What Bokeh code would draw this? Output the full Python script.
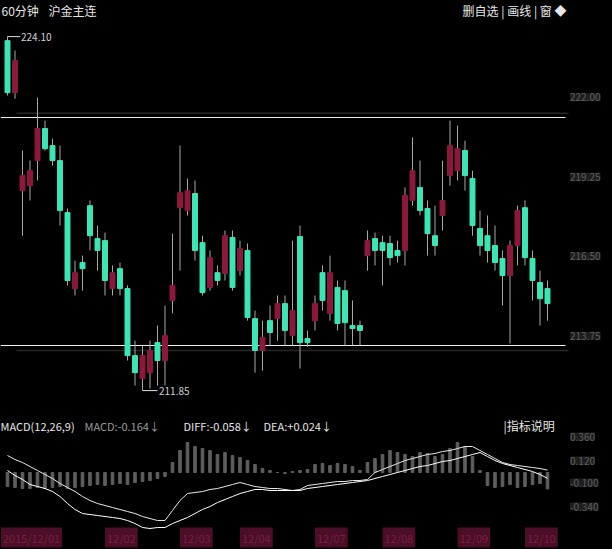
from bokeh.plotting import figure
from bokeh.models import Range1d, Label
from bokeh.core.properties import value
from bokeh.embed import file_html
from bokeh.resources import INLINE

# ---------------- data ----------------
opens = [223.96, 222.16, 218.77, 218.94, 219.81, 220.92, 220.33, 219.81, 218.01, 215.38,
         216.28, 218.25, 217.11, 217.04, 215.38, 216.07, 215.38, 213.06, 212.27, 212.47,
         213.51, 212.89, 214.97, 218.18, 218.08, 218.67, 216.97, 215.42, 215.93, 215.90,
         217.15, 216.00, 216.70, 214.34, 213.24, 214.27, 214.34, 214.86, 213.75, 217.18,
         213.65, 214.27, 215.93, 214.52, 215.42, 215.31, 214.10, 214.10, 216.52, 217.11,
         216.97, 216.94, 216.70, 216.70, 218.43, 218.88, 218.15, 217.21, 217.91, 219.29,
         219.46, 220.16, 219.19, 217.46, 217.21, 216.87, 216.42, 215.83, 216.87, 218.18,
         216.42, 215.59, 215.38]
highs = [224.10, 223.62, 220.16, 219.81, 221.99, 221.19, 220.57, 220.33, 218.15, 216.35,
         216.52, 218.43, 217.56, 217.32, 216.18, 216.28, 215.49, 213.58, 213.41, 213.58,
         214.10, 214.79, 217.28, 220.33, 219.19, 219.12, 217.21, 216.70, 216.18, 217.39,
         217.39, 217.04, 216.94, 214.62, 214.27, 214.79, 215.14, 215.14, 217.04, 217.56,
         213.93, 215.14, 216.18, 216.52, 215.66, 215.66, 214.97, 214.27, 217.39, 217.32,
         217.21, 217.21, 217.04, 218.88, 220.61, 219.81, 218.43, 218.25, 219.81, 221.19,
         221.02, 220.50, 219.46, 218.08, 217.91, 217.56, 216.70, 217.04, 218.25, 218.43,
         216.70, 216.00, 215.66]
lows = [222.06, 221.95, 217.21, 218.43, 219.12, 220.16, 219.64, 217.56, 215.49, 215.14,
        215.31, 216.70, 216.00, 215.14, 215.14, 215.14, 212.89, 212.02, 211.85, 211.92,
        212.02, 212.02, 214.52, 216.00, 217.91, 216.35, 215.14, 215.31, 215.49, 215.66,
        215.31, 215.83, 214.27, 212.47, 212.54, 213.41, 213.58, 213.41, 213.41, 212.61,
        213.37, 213.93, 214.62, 214.27, 213.93, 213.41, 213.41, 213.41, 216.00, 216.18,
        215.49, 216.18, 216.28, 216.18, 218.25, 217.91, 216.52, 216.52, 217.39, 218.94,
        219.12, 218.77, 217.21, 216.52, 216.28, 216.00, 214.79, 213.48, 216.18, 216.18,
        214.97, 214.10, 214.27]
closes = [222.16, 223.27, 219.29, 219.46, 220.92, 220.22, 219.81, 218.08, 215.66, 215.93,
          216.07, 217.21, 216.70, 215.66, 215.93, 215.38, 213.06, 212.47, 213.06, 213.24,
          212.89, 213.75, 215.49, 218.70, 218.77, 216.70, 215.24, 216.45, 215.66, 217.21,
          215.42, 216.77, 214.38, 213.24, 213.69, 213.86, 214.86, 213.93, 214.62, 213.51,
          213.51, 214.86, 214.97, 215.93, 214.17, 214.20, 214.00, 213.93, 217.04, 216.70,
          216.70, 216.45, 216.52, 218.60, 219.46, 218.08, 217.28, 216.87, 218.43, 220.33,
          220.22, 219.29, 217.56, 216.87, 216.70, 216.28, 215.83, 216.87, 218.08, 216.45,
          215.66, 215.03, 214.86]

diff = [0.02, -0.03, -0.07, -0.12, -0.14, -0.16, -0.19, -0.24, -0.31, -0.37,
        -0.41, -0.42, -0.43, -0.44, -0.45, -0.46, -0.48, -0.51, -0.55, -0.56,
        -0.55, -0.55, -0.51, -0.48, -0.45, -0.41, -0.37, -0.34, -0.30, -0.27,
        -0.24, -0.21, -0.19, -0.17, -0.17, -0.18, -0.18, -0.18, -0.18, -0.18,
        -0.16, -0.15, -0.14, -0.13, -0.12, -0.11, -0.10, -0.09, -0.08, -0.06,
        -0.04, -0.02, 0.00, 0.02, 0.04, 0.06, 0.07, 0.09, 0.11, 0.12,
        0.14, 0.16, 0.18, 0.20, 0.16, 0.12, 0.09, 0.07, 0.05, 0.03,
        0.01, -0.02, -0.058]
dea = [0.17, 0.13, 0.10, 0.06, 0.02, -0.02, -0.06, -0.11, -0.15, -0.19,
       -0.24, -0.28, -0.31, -0.33, -0.35, -0.37, -0.39, -0.41, -0.44, -0.46,
       -0.48, -0.48, -0.38, -0.28, -0.21, -0.20, -0.19, -0.17, -0.16, -0.14,
       -0.12, -0.10, -0.12, -0.14, -0.15, -0.16, -0.16, -0.17, -0.18, -0.17,
       -0.13, -0.12, -0.11, -0.10, -0.09, -0.09, -0.08, -0.08, -0.07, 0.00,
       0.03, 0.06, 0.09, 0.12, 0.14, 0.16, 0.18, 0.19, 0.21, 0.22,
       0.24, 0.26, 0.26, 0.22, 0.18, 0.14, 0.10, 0.08, 0.07, 0.06,
       0.05, 0.04, 0.024]
hist = [-0.14, -0.15, -0.16, -0.16, -0.15, -0.16, -0.15, -0.14, -0.16, -0.15,
        -0.14, -0.13, -0.12, -0.13, -0.12, -0.11, -0.12, -0.10, -0.09, -0.08,
        -0.06, -0.04, 0.10, 0.22, 0.30, 0.26, 0.24, 0.22, 0.18, 0.20,
        0.17, 0.15, 0.12, 0.08, 0.04, 0.02, 0.00, -0.01, 0.01, 0.02,
        0.03, 0.08, 0.09, 0.07, 0.09, 0.08, 0.06, 0.02, 0.10, 0.14,
        0.18, 0.22, 0.20, 0.18, 0.16, 0.20, 0.19, 0.16, 0.18, 0.24,
        0.30, 0.26, 0.16, 0.02, -0.13, -0.15, -0.14, -0.12, -0.15, -0.14,
        -0.12, -0.11, -0.164]

level_lines = [221.30, 213.41]
shadow_lines = [221.45, 213.24]
price_ticks = [222.00, 219.25, 216.50, 213.75]
macd_ticks = [0.36, 0.12, -0.10, -0.34]
date_labels = ["2015/12/01", "12/02", "12/03", "12/04", "12/07", "12/08", "12/09", "12/10"]
date_pos = [-0.9, 13, 23, 31, 41, 50, 60, 69]

FONT = "Noto Sans CJK SC"
RED = "#8c193c"
GREEN = "#3ce6b4"
W, H = 612, 549

n = len(opens)
idx = list(range(n))
up = [c >= o for o, c in zip(opens, closes)]
body_col = [RED if u else GREEN for u in up]
tops = [max(o, c) for o, c in zip(opens, closes)]
bots = [min(o, c) for o, c in zip(opens, closes)]

p = figure(width=W, height=H, x_range=Range1d(-0.933, 80.667),
           y_range=Range1d(206.35, 225.35), output_backend="svg",
           toolbar_location=None, min_border=0,
           x_axis_location=None, y_axis_location=None,
           background_fill_color="black", border_fill_color="black",
           outline_line_color=None)
p.grid.visible = False
p.extra_y_ranges = {"macd": Range1d(-0.77, 4.72)}

# reference lines
p.segment(x0=[1.2] * 2, x1=[74.8] * 2, y0=shadow_lines, y1=shadow_lines,
          line_color="#262626", line_width=1.5)
p.segment(x0=[-0.933] * 2, x1=[74.4] * 2, y0=level_lines, y1=level_lines,
          line_color="#f0f0f0", line_width=1)

# candles
p.segment(x0=idx, x1=idx, y0=lows, y1=highs, line_color="#a8a8a8", line_width=1)
p.vbar(x=idx, width=0.66, top=tops, bottom=bots, fill_color=body_col,
       line_color=body_col)

# high / low markers
hi_i = highs.index(max(highs))
lo_i = lows.index(min(lows))
p.segment(x0=[hi_i], x1=[hi_i + 1.7], y0=[max(highs)], y1=[max(highs)],
          line_color="#dddddd")
p.text(x=[hi_i + 1.8], y=[max(highs)], text=[f"{max(highs):.2f}"],
       text_font=value(FONT), text_font_size="10px", text_color="#d0d0d0",
       text_baseline="middle")
p.segment(x0=[lo_i], x1=[lo_i + 2.0], y0=[min(lows)], y1=[min(lows)],
          line_color="#dddddd")
p.text(x=[lo_i + 2.2], y=[min(lows)], text=[f"{min(lows):.2f}"],
       text_font=value(FONT), text_font_size="10px", text_color="#d0d0d0",
       text_baseline="middle")

# price tick labels (right)
p.text(x=[75.0] * len(price_ticks), y=price_ticks,
       text=[f"{t:.2f}" for t in price_ticks], text_font=value(FONT),
       text_font_size="10px", text_color="#5e5e5e", text_baseline="middle",
       background_fill_color="#1e1e1e")

# MACD panel
p.vbar(x=idx, width=0.35, top=hist, bottom=0, fill_color="#5e5e5e",
       line_color="#5e5e5e", y_range_name="macd")
p.line(idx, dea, line_color="#e8e8e8", line_width=1, y_range_name="macd")
p.line(idx, diff, line_color="#ffffff", line_width=1, y_range_name="macd")
p.text(x=[75.0] * len(macd_ticks), y=macd_ticks,
       text=[f"{t:.3f}" for t in macd_ticks], text_font=value(FONT),
       text_font_size="10px", text_color="#5e5e5e", text_baseline="middle",
       background_fill_color="#1e1e1e", y_range_name="macd")

# header texts
def lab(x, y, text, size="12px", color="#e6e6e6", align="left"):
    p.add_layout(Label(x=x, y=H - y, x_units="screen", y_units="screen", text=text,
                       text_font=FONT, text_font_size=size, text_color=color,
                       text_align=align, text_baseline="middle"))

lab(1, 10, "60分钟")
lab(48, 10, "沪金主连")
lab(566, 10, "删自选 | 画线 | 窗 ◆", align="right")

macd_val = 2 * (diff[-1] - dea[-1])
lab(0, 425, "MACD(12,26,9)", size="11px")
lab(84, 425, f"MACD:{macd_val:+.3f}↓", size="11px", color="#9a9a9a")
lab(183, 425, f"DIFF:{diff[-1]:+.3f}↓", size="11px")
lab(263, 425, f"DEA:{dea[-1]:+.3f}↓", size="11px")
lab(503, 425, "|指标说明", size="12px")

# date labels along the bottom
for d, xi in zip(date_labels, date_pos):
    p.add_layout(Label(x=xi, y=H - 537, x_units="data", y_units="screen", text=d,
                       text_font=FONT, text_font_size="11px", text_color="#7a1e42",
                       text_baseline="middle", background_fill_color="#4a0f27",
                       padding=2))

html = file_html(p, INLINE, title="沪金主连")
html = html.replace("</head>", "<style>html,body{margin:0;padding:0;background:#000;}</style></head>")
with open("out.html", "w", encoding="utf-8") as f:
    f.write(html)
